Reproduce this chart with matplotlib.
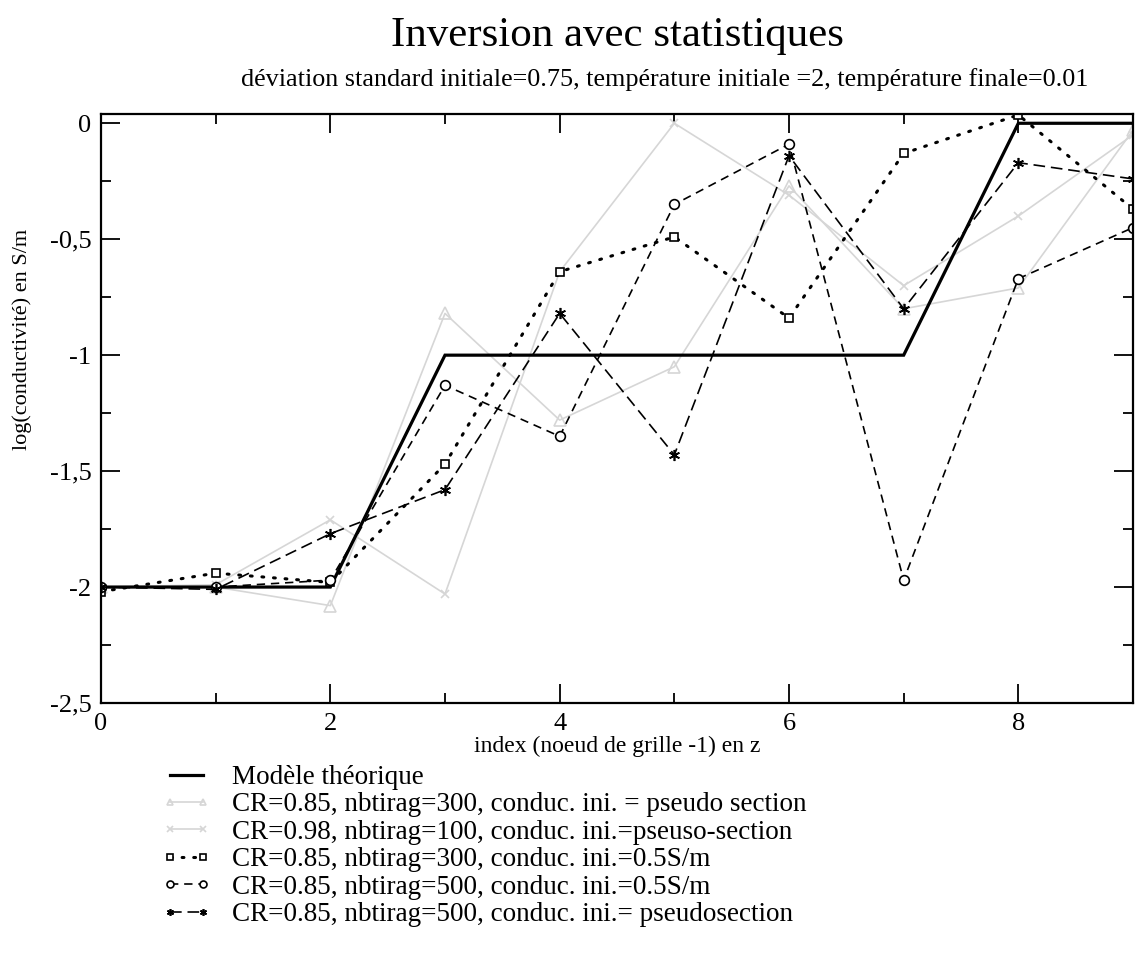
import matplotlib
matplotlib.use('Agg')
import matplotlib.pyplot as plt
import numpy as np

plt.rcParams.update({'font.family': 'Liberation Serif', 'axes.unicode_minus': False})

# data
x = [0, 1, 2, 3, 4, 5, 6, 7, 8, 9]
theorique = [-2, -2, -2, -1, -1, -1, -1, -1, 0, 0]
cr085_300_pseudo = [-2.0, -2.0, -2.08, -0.82, -1.28, -1.05, -0.27, -0.80, -0.71, -0.03]
cr098_100_pseudo = [-2.0, -1.99, -1.71, -2.03, -0.64, 0.0, -0.31, -0.70, -0.40, -0.05]
cr085_300_05 = [-2.02, -1.94, -1.98, -1.47, -0.64, -0.49, -0.84, -0.13, 0.036, -0.37]
cr085_500_05 = [-2.0, -2.0, -1.97, -1.13, -1.35, -0.35, -0.09, -1.97, -0.67, -0.45]
cr085_500_pseudo = [-2.0, -2.01, -1.77, -1.58, -0.82, -1.43, -0.14, -0.80, -0.17, -0.24]

labels = ['Modèle théorique',
          'CR=0.85, nbtirag=300, conduc. ini. = pseudo section',
          'CR=0.98, nbtirag=100, conduc. ini.=pseuso-section',
          'CR=0.85, nbtirag=300, conduc. ini.=0.5S/m',
          'CR=0.85, nbtirag=500, conduc. ini.=0.5S/m',
          'CR=0.85, nbtirag=500, conduc. ini.= pseudosection']

xticks = [0, 2, 4, 6, 8]
yticks = [0, -0.5, -1, -1.5, -2, -2.5]
ytick_labels = ['0', '-0,5', '-1', '-1,5', '-2', '-2,5']

W, H = 1135, 963
fig = plt.figure(figsize=(W / 100, H / 100), dpi=100)
ax = fig.add_axes([101 / W, 1 - 703 / H, (1133 - 101) / W, (703 - 114) / H])

gray = '#d6d6d6'
h1, = ax.plot(x, cr085_300_pseudo, color=gray, lw=1.2, marker='^', ms=9,
              mfc='none', mec=gray, mew=1.2)
h2, = ax.plot(x, cr098_100_pseudo, color=gray, lw=1.2, marker='x', ms=6,
              mec=gray, mew=1.2)
h0, = ax.plot(x, theorique, color='k', lw=2.3, solid_joinstyle='miter')
h3, = ax.plot(x, cr085_300_05, color='k', lw=2.2, ls=(0, (0.6, 3.2)),
              dash_capstyle='round', marker='s', ms=6, mfc='white', mec='k', mew=1.2)
h4, = ax.plot(x, cr085_500_05, color='k', lw=1.2, ls=(0, (5, 3.5)),
              marker='o', ms=7, mfc='white', mec='k', mew=1.2)
h5, = ax.plot(x, cr085_500_pseudo, color='k', lw=1.2, ls=(0, (7, 3.5)),
              marker=(6, 2, 0), ms=8, mec='k', mew=1.2)

ax.set_xlim(0, 9)
ax.set_ylim(-2.5, 0.04)
ax.set_xticks(xticks)
ax.set_xticks(np.arange(0, 10, 1), minor=True)
ax.set_yticks(yticks)
ax.set_yticklabels(ytick_labels)
ax.set_yticks(np.arange(-2.5, 0.01, 0.25), minor=True)
ax.tick_params(which='both', direction='in', top=True, right=True, labelsize=19, width=1.3)
ax.tick_params(which='major', length=14, pad=7)
ax.tick_params(which='minor', length=7)
for s in ax.spines.values():
    s.set_linewidth(1.6)

fig.text(617 / W, 1 - 36 / H, 'Inversion avec statistiques', ha='center', va='center', fontsize=31)
fig.text(665 / W, 1 - 80 / H,
         'déviation standard initiale=0.75, température initiale =2, température finale=0.01',
         ha='center', va='center', fontsize=18.8)
fig.text(617 / W, 1 - 746 / H, 'index (noeud de grille -1) en z', ha='center', va='center', fontsize=17)
fig.text(22 / W, 1 - 339 / H, 'log(conductivité) en S/m', ha='center', va='center',
         rotation=90, fontsize=16)

leg = fig.legend([h0, h1, h2, h3, h4, h5], labels, loc='upper left',
                 bbox_to_anchor=(162 / W, 1 - 765 / H), frameon=False, fontsize=19.5,
                 handlelength=1.8, handletextpad=0.8, labelspacing=0.09,
                 numpoints=2, borderaxespad=0, borderpad=0)
for lh in leg.legend_handles:
    lh.set_markersize(5)

fig.savefig('out.png', dpi=100)
